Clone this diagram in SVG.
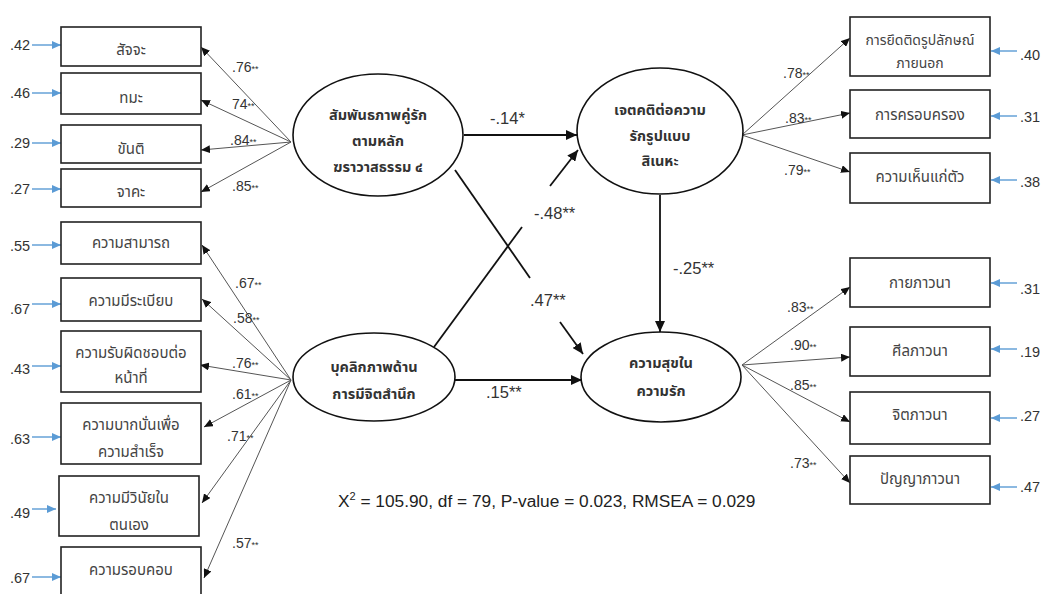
<svg xmlns="http://www.w3.org/2000/svg" width="1044" height="594" viewBox="0 0 1044 594">
<style>
.box{fill:#fff;stroke:#222;stroke-width:1.6}
.ell{fill:#fff;stroke:#111;stroke-width:1.6}
.bt{font-family:"Noto Sans Thai","Noto Sans","DejaVu Sans",sans-serif;font-size:15px;fill:#444;text-anchor:middle}
.bts{font-family:"Noto Sans Thai","Noto Sans","DejaVu Sans",sans-serif;font-size:14px;fill:#444;text-anchor:middle}
.et{font-family:"Noto Sans Thai","Noto Sans","DejaVu Sans",sans-serif;font-size:14.5px;font-weight:bold;fill:#333;text-anchor:middle}
.num{font-family:"Liberation Sans",Arial,sans-serif;font-size:14.5px;fill:#333}
.ld{font-family:"Liberation Sans",Arial,sans-serif;font-size:14px;fill:#333}
.st{font-size:9px}
.sp{font-family:"Liberation Sans",Arial,sans-serif;font-size:16.5px;fill:#333}
.load{stroke:#555;stroke-width:1;fill:none;marker-end:url(#ag)}
.path{stroke:#111;stroke-width:1.8;fill:none}
.pa{marker-end:url(#ab)}
.res{stroke:#5b9bd5;stroke-width:1.4;fill:none;marker-end:url(#bl)}
.fm{font-family:"Liberation Sans",Arial,sans-serif;font-size:17.3px;fill:#222}
</style>
<defs>
<marker id="ag" markerWidth="10" markerHeight="8" refX="9" refY="4" orient="auto" markerUnits="userSpaceOnUse"><path d="M0,0 L9,4 L0,8 Z" fill="#111"/></marker>
<marker id="ab" markerWidth="12" markerHeight="10" refX="11" refY="5" orient="auto" markerUnits="userSpaceOnUse"><path d="M0,0 L11,5 L0,10 Z" fill="#111"/></marker>
<marker id="bl" markerWidth="10" markerHeight="8" refX="9" refY="4" orient="auto" markerUnits="userSpaceOnUse"><path d="M0,0 L9,4 L0,8 Z" fill="#5b9bd5"/></marker>
</defs>
<rect width="1044" height="594" fill="#fff"/>

<g id="connectors">
<line class="load" x1="291" y1="142" x2="201" y2="47"/>
<line class="load" x1="291" y1="142" x2="201" y2="100"/>
<line class="load" x1="291" y1="142" x2="201" y2="150"/>
<line class="load" x1="291" y1="142" x2="201" y2="192"/>
<line class="load" x1="291" y1="380" x2="202" y2="245"/>
<line class="load" x1="291" y1="380" x2="202" y2="299"/>
<line class="load" x1="291" y1="380" x2="200" y2="365"/>
<line class="load" x1="291" y1="380" x2="204" y2="427"/>
<line class="load" x1="291" y1="380" x2="202" y2="503"/>
<line class="load" x1="291" y1="380" x2="204" y2="578"/>
<line class="load" x1="742" y1="135" x2="850" y2="38"/>
<line class="load" x1="742" y1="135" x2="850" y2="113"/>
<line class="load" x1="742" y1="135" x2="850" y2="172"/>
<line class="load" x1="742" y1="365" x2="850" y2="287"/>
<line class="load" x1="742" y1="365" x2="850" y2="357"/>
<line class="load" x1="742" y1="365" x2="850" y2="422"/>
<line class="load" x1="742" y1="365" x2="850" y2="483"/>
<line class="res" x1="32" y1="45" x2="61" y2="45"/>
<line class="res" x1="32" y1="93" x2="61" y2="93"/>
<line class="res" x1="32" y1="143" x2="61" y2="143"/>
<line class="res" x1="32" y1="189" x2="61" y2="189"/>
<line class="res" x1="32" y1="245" x2="61" y2="245"/>
<line class="res" x1="32" y1="304" x2="61" y2="304"/>
<line class="res" x1="32" y1="366" x2="61" y2="366"/>
<line class="res" x1="32" y1="437" x2="61" y2="437"/>
<line class="res" x1="32" y1="509" x2="56" y2="509"/>
<line class="res" x1="32" y1="577" x2="61" y2="577"/>
<line class="res" x1="1017" y1="51" x2="991" y2="51"/>
<line class="res" x1="1017" y1="116" x2="991" y2="116"/>
<line class="res" x1="1017" y1="180" x2="991" y2="180"/>
<line class="res" x1="1017" y1="283" x2="991" y2="283"/>
<line class="res" x1="1017" y1="349" x2="991" y2="349"/>
<line class="res" x1="1017" y1="418" x2="991" y2="418"/>
<line class="res" x1="1017" y1="487" x2="991" y2="487"/>
<line class="path pa" x1="464" y1="135" x2="577" y2="135"/>
<line class="path" x1="455" y1="170" x2="530" y2="278"/>
<line class="path pa" x1="560" y1="322" x2="583" y2="354"/>
<line class="path" x1="434" y1="347" x2="522" y2="227"/>
<line class="path pa" x1="550" y1="186" x2="578" y2="150"/>
<line class="path pa" x1="455" y1="380" x2="582" y2="380"/>
<line class="path pa" x1="660" y1="195" x2="660" y2="332"/>
</g>

<g id="labels">
<text class="ld" x="232" y="72">.76<tspan class="st">**</tspan></text>
<text class="ld" x="232" y="109">74<tspan class="st">**</tspan></text>
<text class="ld" x="230" y="145">.84<tspan class="st">**</tspan></text>
<text class="ld" x="232" y="191">.85<tspan class="st">**</tspan></text>
<text class="ld" x="235" y="288">.67<tspan class="st">**</tspan></text>
<text class="ld" x="233" y="323">.58<tspan class="st">**</tspan></text>
<text class="ld" x="232" y="368">.76<tspan class="st">**</tspan></text>
<text class="ld" x="232" y="399">.61<tspan class="st">**</tspan></text>
<text class="ld" x="227" y="441">.71<tspan class="st">**</tspan></text>
<text class="ld" x="232" y="548">.57<tspan class="st">**</tspan></text>
<text class="ld" x="783" y="78">.78<tspan class="st">**</tspan></text>
<text class="ld" x="785" y="123">.83<tspan class="st">**</tspan></text>
<text class="ld" x="784" y="175">.79<tspan class="st">**</tspan></text>
<text class="ld" x="787" y="312">.83<tspan class="st">**</tspan></text>
<text class="ld" x="790" y="350">.90<tspan class="st">**</tspan></text>
<text class="ld" x="790" y="390">.85<tspan class="st">**</tspan></text>
<text class="ld" x="790" y="468">.73<tspan class="st">**</tspan></text>
<text class="sp" x="490" y="124">-.14*</text>
<text class="sp" x="534" y="219">-.48**</text>
<text class="sp" x="530" y="306">.47**</text>
<text class="sp" x="486" y="398">.15**</text>
<text class="sp" x="673" y="274">-.25**</text>
<text class="num" x="10" y="50">.42</text>
<text class="num" x="10" y="98">.46</text>
<text class="num" x="10" y="148">.29</text>
<text class="num" x="10" y="194">.27</text>
<text class="num" x="10" y="251">.55</text>
<text class="num" x="10" y="314">.67</text>
<text class="num" x="10" y="374">.43</text>
<text class="num" x="10" y="444">.63</text>
<text class="num" x="10" y="518">.49</text>
<text class="num" x="10" y="583">.67</text>
<text class="num" x="1020" y="60">.40</text>
<text class="num" x="1020" y="122">.31</text>
<text class="num" x="1020" y="187">.38</text>
<text class="num" x="1020" y="294">.31</text>
<text class="num" x="1020" y="357">.19</text>
<text class="num" x="1020" y="421">.27</text>
<text class="num" x="1020" y="492">.47</text>
<text class="fm" x="338" y="507">X<tspan font-size="11" dy="-7">2</tspan><tspan dy="7"> = 105.90, df = 79, P-value = 0.023, RMSEA = 0.029</tspan></text>
</g>

<g id="l1"><rect class="box" x="61" y="27" width="140" height="39"/><text class="bt" x="131" y="55">สัจจะ</text></g>
<g id="l2"><rect class="box" x="61" y="73" width="140" height="41"/><text class="bt" x="131" y="103">ทมะ</text></g>
<g id="l3"><rect class="box" x="61" y="125" width="140" height="38"/><text class="bt" x="131" y="154">ขันติ</text></g>
<g id="l4"><rect class="box" x="61" y="169" width="140" height="38"/><text class="bt" x="131" y="197">จาคะ</text></g>
<g id="l5"><rect class="box" x="61" y="222" width="140" height="42"/><text class="bt" x="131" y="248">ความสามารถ</text></g>
<g id="l6"><rect class="box" x="61" y="278" width="140" height="43"/><text class="bt" x="131" y="306">ความมีระเบียบ</text></g>
<g id="l7"><rect class="box" x="61" y="331" width="140" height="61"/><text class="bt" x="131" y="358">ความรับผิดชอบต่อ</text><text class="bt" x="131" y="383">หน้าที่</text></g>
<g id="l8"><rect class="box" x="61" y="403" width="140" height="61"/><text class="bt" x="131" y="430">ความบากบั่นเพื่อ</text><text class="bt" x="131" y="457">ความสำเร็จ</text></g>
<g id="l9"><rect class="box" x="59" y="476" width="140" height="60"/><text class="bt" x="129" y="503">ความมีวินัยใน</text><text class="bt" x="129" y="530">ตนเอง</text></g>
<g id="l10"><rect class="box" x="61" y="547" width="140" height="60"/><text class="bt" x="131" y="575">ความรอบคอบ</text></g>

<g id="r1"><rect class="box" x="850" y="17" width="140" height="59"/><text class="bts" x="920" y="45">การยึดติดรูปลักษณ์</text><text class="bts" x="920" y="68">ภายนอก</text></g>
<g id="r2"><rect class="box" x="850" y="90" width="140" height="48"/><text class="bt" x="920" y="120">การครอบครอง</text></g>
<g id="r3"><rect class="box" x="850" y="153" width="140" height="50"/><text class="bt" x="920" y="182">ความเห็นแก่ตัว</text></g>
<g id="r4"><rect class="box" x="850" y="258" width="140" height="49"/><text class="bt" x="920" y="288">กายภาวนา</text></g>
<g id="r5"><rect class="box" x="850" y="327" width="140" height="49"/><text class="bt" x="920" y="356">ศีลภาวนา</text></g>
<g id="r6"><rect class="box" x="850" y="392" width="140" height="52"/><text class="bt" x="920" y="420">จิตภาวนา</text></g>
<g id="r7"><rect class="box" x="850" y="456" width="140" height="48"/><text class="bt" x="920" y="484">ปัญญาภาวนา</text></g>

<g id="e1"><ellipse class="ell" cx="378" cy="135" rx="85" ry="61"/><text class="et" x="378" y="120">สัมพันธภาพคู่รัก</text><text class="et" x="378" y="146">ตามหลัก</text><text class="et" x="378" y="172">ฆราวาสธรรม ๔</text></g>
<g id="e2"><ellipse class="ell" cx="374" cy="377" rx="81" ry="44"/><text class="et" x="374" y="372">บุคลิกภาพด้าน</text><text class="et" x="374" y="399">การมีจิตสำนึก</text></g>
<g id="e3"><ellipse class="ell" cx="660" cy="131" rx="83" ry="63"/><text class="et" x="660" y="115">เจตคติต่อความ</text><text class="et" x="660" y="141">รักรูปแบบ</text><text class="et" x="660" y="166">สิเนหะ</text></g>
<g id="e4"><ellipse class="ell" cx="661" cy="377" rx="80" ry="45"/><text class="et" x="661" y="368">ความสุขใน</text><text class="et" x="661" y="396">ความรัก</text></g>
</svg>
